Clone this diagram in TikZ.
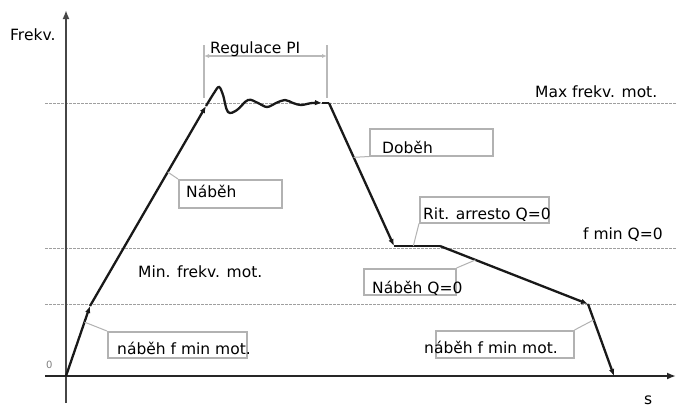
\documentclass[tikz,border=0pt]{standalone}
\usepackage{fontspec}
\setmainfont{DejaVu Sans}
\usetikzlibrary{arrows.meta}
\tikzset{
  curve/.style={line width=2.3pt, black!90},
  guide/.style={gray!75, line width=0.8pt, dash pattern=on 2.5pt off 1.5pt},
  lbox/.style={draw=gray!60, line width=1.5pt, inner sep=0pt, anchor=north west},
  lead/.style={draw=gray!60, line width=1pt},
  lbl/.style={font=\fontsize{15.5}{18}\selectfont, inner sep=0pt, anchor=base west},
  tip/.style={-{Latex[length=7pt,width=5.5pt]}},
  axtip/.style={-{Latex[length=9pt,width=7pt]}},
}
\begin{document}
\begin{tikzpicture}[x=1pt,y=-1pt]
  \path[fill=white] (0,0) rectangle (676,407);
  \useasboundingbox (0,0) rectangle (676,407);
  % guide levels
  \foreach \name / \lev in {max/103, fq/248, fm/304} {
    \coordinate (\name l) at (45,\lev);
    \coordinate (\name r) at (676,\lev);
    \draw[guide] (\name l) -- (\name r);
  }
  % axes
  \coordinate (yb) at (66,403);
  \coordinate (yt) at (66,10);
  \coordinate (xl) at (45,376);
  \coordinate (xr) at (676,376);
  \draw[axtip, line width=2.6pt, gray!55!black] (yb) -- (yt);
  \draw[axtip, line width=2.6pt, black!85] (xl) -- (xr);
  \node[lbl] (tfrek) at (10,40) {Frekv.};
  \node[lbl] (ts) at (644,404) {s};
  \node[font=\fontsize{10}{12}\selectfont, text=gray, inner sep=0pt, anchor=base west] (tzero) at (46,368) {0};
  % curve points
  \coordinate (o) at (66,376);
  \coordinate (p1) at (90,306);
  \coordinate (p2) at (206,106);
  \coordinate (p3) at (322,103);
  \coordinate (p4) at (329,103);
  \coordinate (p5) at (394,246);
  \coordinate (p6) at (440,246);
  \coordinate (p7) at (588,304);
  \coordinate (p8) at (614,376);
  \draw[curve, tip] (o) -- (p1);
  \draw[curve, tip] (p1) -- (p2);
  \draw[curve, tip] plot[smooth, tension=0.6] coordinates {(p2) (214,93) (219,87) (223,95) (228,112) (237,110) (248,100) (258,103) (267,107) (276,103) (285,100) (293,103) (301,105) (312,103) (p3)};
  \draw[curve] (p3) -- (p4);
  \draw[curve, tip] (p4) -- (p5);
  \draw[curve] (p5) -- (p6);
  \draw[curve, tip] (p6) -- (p7);
  \draw[curve, tip] (p7) -- (p8);
  % Regulace PI
  \coordinate (rl) at (204,45);
  \coordinate (rr) at (327,45);
  \draw[gray!55, line width=1.5pt] (rl) -- ++(0,53);
  \draw[gray!55, line width=1.5pt] (rr) -- ++(0,53);
  \draw[gray!55, line width=1.2pt, {Latex[length=5pt,width=4pt]}-{Latex[length=5pt,width=4pt]}] ([yshift=-11pt]rl) -- ([yshift=-11pt]rr);
  \node[lbl] (treg) at (210,53) {Regulace PI};
  % level labels
  \node[lbl] (tmax) at (535,97) {Max frekv. mot.};
  \node[lbl] (tfq) at (583,239) {f min Q=0};
  \node[lbl] (tmin) at (138,277) {Min. frekv. mot.};
  % boxes
  \node[lbox, minimum width=103pt, minimum height=28pt] (bnab) at (178,179) {};
  \node[lbox, minimum width=123pt, minimum height=27pt] (bdob) at (369,128) {};
  \node[lbox, minimum width=129pt, minimum height=26pt] (brit) at (419,196) {};
  \node[lbox, minimum width=92pt, minimum height=26pt] (bnq) at (363,268) {};
  \node[lbox, minimum width=139pt, minimum height=26pt] (bfl) at (107,331) {};
  \node[lbox, minimum width=138pt, minimum height=27pt] (bfr) at (435,330) {};
  \node[lbl] (tnab) at (186,197) {Náběh};
  \node[lbl] (tdob) at (382,153) {Doběh};
  \node[lbl] (trit) at (423,219) {Rit. arresto Q=0};
  \node[lbl] (tnq) at (372,293) {Náběh Q=0};
  \node[lbl] (tfl) at (117,354) {náběh f min mot.};
  \node[lbl] (tfr) at (424,353) {náběh f min mot.};
  % leaders
  \path (o) -- (p1) coordinate[pos=0.77] (cfl);
  \path (p1) -- (p2) coordinate[pos=0.67] (cnab);
  \path (p4) -- (p5) coordinate[pos=0.38] (cdob);
  \path (p5) -- (p6) coordinate[pos=0.42] (crit);
  \path (p6) -- (p7) coordinate[pos=0.24] (cnq);
  \path (p7) -- (p8) coordinate[pos=0.22] (cfr);
  \draw[lead] (cfl) -- (bfl.north west);
  \draw[lead] (cnab) -- (bnab.north west);
  \draw[lead] (cdob) -- (bdob.south west);
  \draw[lead] (crit) -- (brit.south west);
  \draw[lead] (cnq) -- (bnq.north east);
  \draw[lead] (cfr) -- (bfr.north east);
\end{tikzpicture}
\end{document}
